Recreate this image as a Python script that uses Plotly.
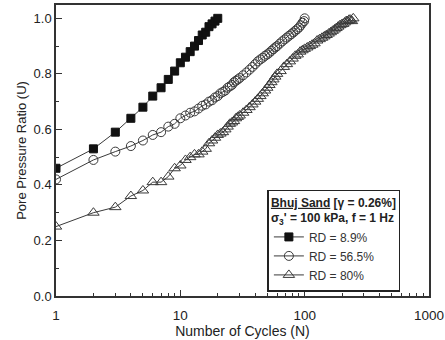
import plotly.graph_objects as go

# Number of cycles and pore pressure ratio for each relative density
n_rd89 = list(range(1, 21))
u_rd89 = [0.46, 0.53, 0.59, 0.64, 0.68, 0.72, 0.75, 0.78, 0.81, 0.84,
          0.86, 0.88, 0.90, 0.92, 0.94, 0.95, 0.97, 0.98, 0.99, 1.00]

n_rd565 = (list(range(1, 31)) + list(range(32, 61, 2)) + list(range(63, 100, 3)) + [100])
u_rd565 = [0.42, 0.49, 0.52, 0.54, 0.56, 0.58, 0.59, 0.61, 0.62, 0.64,
           0.65, 0.66, 0.665, 0.675, 0.685, 0.69, 0.70, 0.705, 0.715, 0.72,
           0.73, 0.735, 0.74, 0.75, 0.755, 0.76, 0.77, 0.775, 0.78, 0.785,
           0.795, 0.805, 0.815, 0.825, 0.835, 0.845, 0.852, 0.858, 0.865, 0.87,
           0.876, 0.883, 0.889, 0.895, 0.90,
           0.909, 0.917, 0.924, 0.931, 0.937, 0.943, 0.949, 0.955, 0.961, 0.967,
           0.975, 0.984, 0.99, 1.00]

n_rd80 = (list(range(1, 31)) + list(range(32, 61, 2)) + list(range(64, 101, 4))
          + list(range(105, 121, 5)) + list(range(126, 247, 6)))
u_rd80 = [0.25, 0.30, 0.32, 0.36, 0.38, 0.41, 0.41, 0.43, 0.46, 0.47,
          0.49, 0.50, 0.51, 0.51, 0.52, 0.53, 0.55, 0.56, 0.57, 0.58,
          0.585, 0.59, 0.60, 0.61, 0.62, 0.625, 0.63, 0.64, 0.645, 0.65,
          0.66, 0.67, 0.68, 0.69, 0.70, 0.71, 0.72, 0.73, 0.74, 0.75,
          0.76, 0.77, 0.78, 0.79, 0.80,
          0.81, 0.825, 0.835, 0.845, 0.855, 0.865, 0.87, 0.88, 0.885, 0.89,
          0.895, 0.90, 0.905, 0.91,
          0.92, 0.925, 0.93, 0.935, 0.94, 0.945, 0.95, 0.955, 0.96, 0.965,
          0.97, 0.975, 0.978, 0.98, 0.985, 0.99, 0.99, 0.995, 0.995, 0.99, 1.00]

x_ticks = [1, 10, 100, 1000]
x_tick_text = ["1", "10", "100", "1000"]
x_minor = [m * 10 ** k for k in range(3) for m in range(2, 10)]

LINE = "#3a3a3a"
TEXT = "#222222"
FONT = "Liberation Sans, Arial, sans-serif"

fig = go.Figure()
fig.add_trace(go.Scatter(
    x=n_rd89, y=u_rd89, name="RD = 8.9%", mode="lines+markers",
    line=dict(color=LINE, width=1),
    marker=dict(symbol="square", size=8, color="#111111",
                line=dict(color="#111111", width=1))))
fig.add_trace(go.Scatter(
    x=n_rd565, y=u_rd565, name="RD = 56.5%", mode="lines+markers",
    line=dict(color=LINE, width=1),
    marker=dict(symbol="circle-open", size=9, color="#3a3a3a",
                line=dict(width=1))))
fig.add_trace(go.Scatter(
    x=n_rd80, y=u_rd80, name="RD = 80%", mode="lines+markers",
    line=dict(color=LINE, width=1),
    marker=dict(symbol="triangle-up-open", size=10, color="#3a3a3a",
                line=dict(width=1))))

fig.update_layout(
    width=445, height=340,
    margin=dict(l=56, r=16, t=5, b=44),
    paper_bgcolor="white", plot_bgcolor="white",
    font=dict(family=FONT, size=13, color=TEXT),
    legend=dict(
        title=dict(
            text="<b><u>Bhuj Sand</u> [γ = 0.26%]</b><br>"
                 "<b>σ<sub>3</sub>' = 100 kPa, f = 1 Hz</b>",
            font=dict(size=12, color=TEXT, family=FONT)),
        x=0.745, y=0.19, xanchor="center", yanchor="middle",
        bgcolor="white", bordercolor="#222222", borderwidth=1.5,
        font=dict(size=12, color="#333333", family=FONT),
        tracegroupgap=0, itemwidth=30,
    ),
    xaxis=dict(
        type="log", range=[0, 3], automargin=False,
        tickmode="array", tickvals=x_ticks, ticktext=x_tick_text,
        ticks="inside", ticklen=6, tickwidth=1, tickcolor="#333",
        minor=dict(tickmode="array", tickvals=x_minor, ticks="inside",
                   ticklen=3, tickwidth=1, tickcolor="#333"),
        showline=True, linecolor="#333", linewidth=1.5, mirror=True,
        showgrid=False, zeroline=False,
        ticklabelstandoff=6,
        title=dict(text="Number of Cycles (N)", font=dict(size=14), standoff=2),
        tickfont=dict(size=13.5),
    ),
    yaxis=dict(
        range=[0, 1.048], automargin=False,
        tickmode="linear", tick0=0, dtick=0.2, tickformat=".1f",
        ticks="inside", ticklen=6, tickwidth=1, tickcolor="#333",
        minor=dict(dtick=0.1, ticks="inside", ticklen=3, tickwidth=1,
                   tickcolor="#333"),
        showline=True, linecolor="#333", linewidth=1.5, mirror=True,
        showgrid=False, zeroline=False,
        title=dict(text="Pore Pressure Ratio (U)", font=dict(size=13), standoff=4),
        tickfont=dict(size=13),
    ),
)

fig.write_html("out.html")
